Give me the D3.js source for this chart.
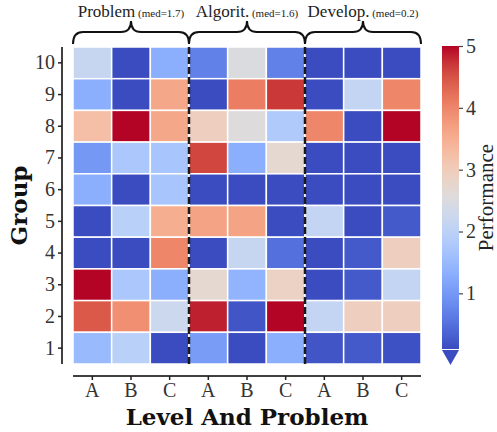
<!DOCTYPE html>
<html>
<head>
<meta charset="utf-8">
<script src="https://cdn.jsdelivr.net/npm/d3@7"></script>
<style>
  html, body { margin: 0; padding: 0; background: #fff; }
  #chart { width: 497px; height: 432px; }
  text { font-family: "Liberation Serif", "Times New Roman", Times, serif; fill: #222; }
</style>
</head>
<body>
<div id="chart"></div>
<script>
// 行（从上到下：10 -> 1）
const groups = ["10", "9", "8", "7", "6", "5", "4", "3", "2", "1"];
const columns = ["A", "B", "C", "A", "B", "C", "A", "B", "C"];
const sections = ["Problem", "Algorit.", "Develop."];
const sectionMeds = ["1.7", "1.6", "0.2"];
const cbTicks = [1, 2, 3, 4, 5];

// 每行的数值（与 groups 顺序对应）
const values = [
    [2.15, 0.0, 1.3, 0.7, 2.5, 0.7, 0.0, 0.0, 0.0],
    [1.3, 0.0, 3.6, 0.0, 4.1, 4.7, 0.0, 2.1, 4.0],
    [3.25, 5.0, 3.6, 2.95, 2.55, 1.8, 4.0, 0.0, 5.0],
    [1.0, 1.75, 1.7, 4.6, 1.3, 2.7, 0.0, 0.0, 0.0],
    [1.3, 0.0, 1.7, 0.0, 0.0, 0.0, 0.0, 0.0, 0.0],
    [0.0, 1.95, 3.5, 3.65, 3.65, 0.0, 2.1, 0.0, 0.25],
    [0.0, 0.0, 4.0, 0.0, 2.15, 0.5, 0.0, 0.25, 2.95],
    [5.0, 1.75, 1.3, 2.7, 1.4, 2.85, 0.0, 0.25, 2.1],
    [4.45, 3.9, 2.25, 4.85, 0.2, 5.0, 2.1, 2.95, 2.95],
    [1.5, 1.95, 0.0, 1.05, 0.0, 1.3, 0.2, 0.25, 0.15]
];

const vmin = 0.1, vmax = 5;

// matplotlib coolwarm 色标
const coolwarm = ["#3b4cc0", "#4d68d7", "#6282ea", "#779af7", "#8db0fe", "#a3c2ff",
    "#b8d0f9", "#ccd9ee", "#dddddd", "#ecd3c5", "#f5c4ad", "#f7b194", "#f49a7b",
    "#ec7f63", "#de604d", "#cb3e38", "#b40426"];
const interp = d3.interpolateRgbBasis(coolwarm);
const color = v => interp(Math.max(0, Math.min(1, (v - vmin) / (vmax - vmin))));

const width = 497, height = 432;
const margin = { top: 47, left: 73, right: 76, bottom: 68 };
const serif = '"Liberation Serif", "Times New Roman", Times, serif';
const boldSerif = '"DejaVu Serif", serif';

const svg = d3.select('#chart').append('svg')
    .attr('width', width)
    .attr('height', height);

const x = d3.scaleBand()
    .domain(d3.range(columns.length))
    .range([margin.left, width - margin.right]);

const y = d3.scaleBand()
    .domain(groups)
    .range([margin.top, height - margin.bottom]);

// 单元格
const cells = [];
values.forEach((row, i) => row.forEach((v, j) => cells.push({ g: groups[i], c: j, v })));

svg.append('g')
    .selectAll('rect')
    .data(cells)
    .join('rect')
    .attr('x', d => x(d.c))
    .attr('y', d => y(d.g))
    .attr('width', x.bandwidth())
    .attr('height', y.bandwidth())
    .attr('fill', d => color(d.v))
    .attr('stroke', '#fff')
    .attr('stroke-width', 1.5);

// 分组虚线
[3, 6].forEach(j => {
    svg.append('line')
        .attr('x1', x(j)).attr('x2', x(j))
        .attr('y1', y.range()[0]).attr('y2', y.range()[1])
        .attr('stroke', '#1a1a1a')
        .attr('stroke-width', 2.5)
        .attr('stroke-dasharray', '7,3');
});

// Y 轴
const yAxis = svg.append('g')
    .attr('transform', `translate(62,0)`)
    .call(d3.axisLeft(y).tickSize(4).tickPadding(3));
yAxis.select('.domain').attr('stroke', '#000').attr('stroke-width', 1.5)
    .attr('d', `M0,${y.range()[0]}V${y.range()[1]}`);
yAxis.selectAll('.tick line').attr('stroke', '#222').attr('stroke-width', 1.5);
yAxis.selectAll('.tick text').style('font-size', '20px').style('fill', '#333')
    .style('font-family', serif);

// X 轴
const xAxis = svg.append('g')
    .attr('transform', `translate(0,376)`)
    .call(d3.axisBottom(x).tickSize(4).tickPadding(3).tickFormat(i => columns[i]));
xAxis.select('.domain').attr('stroke', '#000').attr('stroke-width', 1.5)
    .attr('d', `M${x.range()[0]},0H${x.range()[1]}`);
xAxis.selectAll('.tick line').attr('stroke', '#222').attr('stroke-width', 1.5);
xAxis.selectAll('.tick text').style('font-size', '20px').style('fill', '#333')
    .style('font-family', serif);

// 轴标题
svg.append('text')
    .attr('x', (x.range()[0] + x.range()[1]) / 2)
    .attr('y', 425)
    .attr('text-anchor', 'middle')
    .style('font-family', boldSerif)
    .style('font-weight', 'bold')
    .style('font-size', '23px')
    .style('fill', '#111')
    .text('Level And Problem');

svg.append('text')
    .attr('transform', `translate(27,${(y.range()[0] + y.range()[1]) / 2}) rotate(-90)`)
    .attr('text-anchor', 'middle')
    .style('font-family', boldSerif)
    .style('font-weight', 'bold')
    .style('font-size', '23px')
    .style('fill', '#111')
    .text('Group');

// 顶部大括号和分组标签
const brace = (x0, x1) => {
    const xm = (x0 + x1) / 2, yb = 44, ym = 32, yt = 21, r = 10;
    return `M${x0},${yb} Q${x0},${ym} ${x0 + r},${ym} L${xm - r},${ym} Q${xm},${ym} ${xm},${yt} ` +
        `Q${xm},${ym} ${xm + r},${ym} L${x1 - r},${ym} Q${x1},${ym} ${x1},${yb}`;
};

sections.forEach((name, k) => {
    const x0 = x(k * 3), x1 = x(k * 3 + 2) + x.bandwidth();
    svg.append('path')
        .attr('d', brace(x0, x1))
        .attr('fill', 'none')
        .attr('stroke', '#111')
        .attr('stroke-width', 2);
    const t = svg.append('text')
        .attr('x', (x0 + x1) / 2)
        .attr('y', 17)
        .attr('text-anchor', 'middle');
    t.append('tspan').style('font-size', '17px').text(name);
    t.append('tspan').style('font-size', '11px').text(`  (med=${sectionMeds[k]})`);
});

// 色条
const cbX = 442, cbW = 17;
const cy = d3.scaleLinear().domain([vmin, vmax]).range([349, 46]);

const defs = svg.append('defs');
const grad = defs.append('linearGradient')
    .attr('id', 'cb-grad')
    .attr('x1', 0).attr('y1', 1).attr('x2', 0).attr('y2', 0);
d3.range(0, 1.0001, 0.05).forEach(t => {
    grad.append('stop').attr('offset', t).attr('stop-color', interp(t));
});

svg.append('rect')
    .attr('x', cbX).attr('y', cy(vmax))
    .attr('width', cbW).attr('height', cy(vmin) - cy(vmax))
    .attr('fill', 'url(#cb-grad)');

svg.append('path')
    .attr('d', `M${cbX},${cy(vmin) + 1} L${cbX + cbW},${cy(vmin) + 1} L${cbX + cbW / 2},${cy(vmin) + 16} Z`)
    .attr('fill', color(0));

const cbAxis = svg.append('g')
    .attr('transform', `translate(${cbX + cbW},0)`)
    .call(d3.axisRight(cy).tickValues(cbTicks).tickSize(4).tickPadding(3).tickFormat(d3.format('d')));
cbAxis.select('.domain').remove();
cbAxis.selectAll('.tick line').attr('stroke', '#444').attr('stroke-width', 1.2);
cbAxis.selectAll('.tick text').style('font-size', '20px').style('fill', '#333')
    .style('font-family', serif);

svg.append('text')
    .attr('transform', `translate(493,${(cy(vmin) + cy(vmax)) / 2}) rotate(-90)`)
    .attr('text-anchor', 'middle')
    .style('font-size', '21px')
    .style('fill', '#222')
    .text('Performance');
</script>
</body>
</html>
